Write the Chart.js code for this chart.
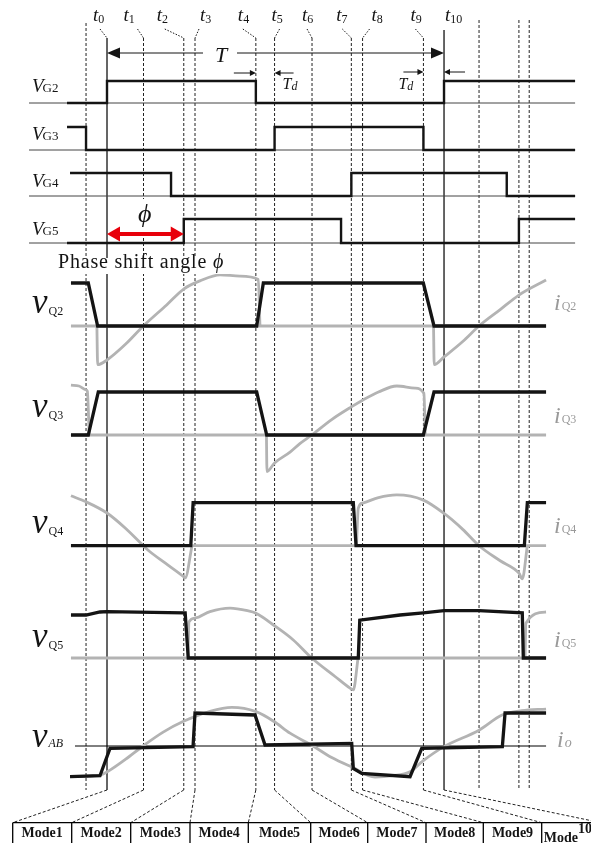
<!DOCTYPE html>
<html>
<head>
<meta charset="utf-8">
<title>Phase-shift full bridge waveforms</title>
<script src="https://cdn.jsdelivr.net/npm/chart.js@4.4.1/dist/chart.umd.min.js"></script>
<style>
  html, body { margin: 0; padding: 0; background: #fff; }
  canvas { display: block; }
</style>
</head>
<body>
<canvas id="waves" width="591" height="843"></canvas>
<script>
// time is in degrees of one switching period T (t0 = 0, t10 = 360)
const tNames = ['0', '1', '2', '3', '4', '5', '6', '7', '8', '9', '10'];
const tMarks = [0, 39, 82, 94, 159, 179, 219, 261, 273, 338, 360];
// unlabeled instants belonging to the neighbouring periods
const extraMarks = [-22.4, 397.4, 440, 451];

// gate drive signals, [t, level]
const vG2 = [[-42.7, 0], [0, 0], [0, 1], [159, 1], [159, 0], [360, 0], [360, 1], [500, 1]];
const vG3 = [[-42.7, 1], [-22.4, 1], [-22.4, 0], [179, 0], [179, 1], [338, 1], [338, 0], [500, 0]];
const vG4 = [[-39.5, 1], [68.4, 1], [68.4, 0], [261, 0], [261, 1], [427, 1], [427, 0], [500, 0]];
const vG5 = [[-42.7, 0], [82, 0], [82, 1], [250, 1], [250, 0], [440, 0], [440, 1], [500, 1]];

// switch voltages (black), per unit
const vQ2 = [[-38.5, 1], [-20, 1], [-10, 0], [159.9, 0], [167, 1], [337.9, 1], [349.3, 0], [469, 0]];
const vQ3 = [[-38.5, 0], [-20, 0], [-9.3, 1], [159.9, 1], [170.6, 0], [337.9, 0], [349.3, 1], [469, 1]];
const vQ4 = [[-38.5, 0], [89.5, 0], [92, 1], [263.1, 1], [266, 0], [445.8, 0], [449, 1], [469, 1]];
const vQ5 = [[-38.5, 1], [-22.4, 1], [-7.5, 1.07], [0, 1.08], [81.9, 1.05], [83.5, 1.05], [86.8, 0],
             [268.4, 0], [270, 0.88], [313, 1], [337.9, 1.05], [360, 1.1], [397.4, 1.1], [443.6, 1.05],
             [444.7, 0], [469, 0]];

// switch currents (grey), per unit, one array per conduction pulse
const iQ2a = [[-10.8, 0], [-10, -0.9], [0, -0.79], [20, -0.42], [38.8, 0], [63.7, 0.49], [81.9, 0.86],
              [99.3, 1.05], [120.7, 1.19], [142, 1.16], [161.6, 1.08], [163.4, 0]];
const iQ2b = [[348.8, 0], [349.5, -0.9], [360, -0.72], [380, -0.36], [397.4, 0], [420, 0.38],
              [440, 0.72], [469, 1.07]];
const iQ3a = [[-38.5, 1.16], [-30, 1.14], [-22.4, 1.05], [-21, 1.02], [-19, 0]];
const iQ3b = [[170.3, 0], [170.9, -0.85], [179, -0.65], [195.5, -0.4], [206, -0.2], [218.7, 0],
              [240, 0.36], [261.4, 0.66], [273, 0.81], [290, 1], [309.5, 1.14], [329, 1.09],
              [338.5, 0.97], [340, 0]];
const iQ4a = [[-38.5, 1.16], [-22.4, 1.02], [0, 0.76], [20, 0.4], [38.8, 0], [45.9, -0.14], [62, -0.4],
              [81.9, -0.72], [83.5, -0.75], [90.8, 0]];
const iQ4b = [[266.5, 0], [268.4, 0.87], [273, 0.99], [290, 1.12], [309.5, 1.18], [337.9, 1.06],
              [360, 0.75], [380, 0.38], [397.4, 0], [420, -0.35], [440.1, -0.64], [443.6, -0.77], [449, 0]];
const iQ5a = [[86.5, 0], [87.6, 0.84], [94, 0.93], [110, 1.08], [131.4, 1.16], [150, 1.1], [159.2, 1.04],
              [179, 0.75], [199, 0.42], [218.7, 0], [243.6, -0.43], [259.6, -0.7], [263.1, -0.74], [268.2, 0]];
const iQ5b = [[446.5, 0], [447.5, 0.81], [469, 1.07]];

// bridge output voltage and load current
const vAB = [[-39.5, -0.93], [-7.5, -0.9], [3.2, -0.07], [91.9, -0.02], [94, 1], [158.1, 0.94],
             [168.8, 0.03], [261.4, 0.08], [263.1, -0.68], [272.1, -0.83], [323.7, -0.93], [336.2, -0.07],
             [422.3, -0.02], [425.2, 1], [469, 1]];
const iO = [[-39.5, -0.93], [-7.5, -0.88], [3.2, -0.73], [20, -0.4], [38.5, 0], [60, 0.42], [81.2, 0.74],
            [110, 1.05], [133.5, 1.17], [159.2, 1.04], [178, 0.75], [195.5, 0.39], [220, 0], [240, -0.35],
            [261.7, -0.64], [286.3, -0.94], [305, -0.9], [323.7, -0.78], [337.6, -0.45], [360, -0.02],
            [397.4, 0.48], [422, 0.94], [443, 1.07], [469, 1.12]];

const modeNames = ['Mode1', 'Mode2', 'Mode3', 'Mode4', 'Mode5', 'Mode6', 'Mode7', 'Mode8', 'Mode9', 'Mode'];

// ---- layout ----
const X_MIN = -114.3, X_MAX = 517;
const BLACK = '#141414', GREY = '#b3b3b3', SERIF = '"Liberation Serif", "Times New Roman", serif';
const gateLanes = [
  { base: 103, amp: 22, ly: -11, sub: 'G2' },
  { base: 150, amp: 23, ly: -10, sub: 'G3' },
  { base: 196, amp: 23, ly: -9, sub: 'G4' },
  { base: 243, amp: 24, ly: -8, sub: 'G5' }
];
const waveLanes = [
  { base: 326, amp: 43, ly: -13, ry: -16, sub: 'Q2' },
  { base: 435, amp: 43, ly: -18, ry: -12, sub: 'Q3' },
  { base: 545.7, amp: 43, ly: -13, ry: -13, sub: 'Q4' },
  { base: 658, amp: 43, ly: -11, ry: -11, sub: 'Q5' }
];
const abLane = { base: 746, amp: 33 };
const LINE_TOP = 38, LINE_BOTTOM = 790, MODE_TOP = 822.7;
const modeEdges = [12.7, 71.7, 130.7, 190, 248.3, 310.7, 367.7, 426, 483.3, 541.7, 601];
const tLabelDx = [-14, -20, -27, 5, -18, -3, -10, -15, 9, -13, 1];
const tLeadDx = [-7, -6, -19, 4, -13, 5, -5, -9, 7, -8, 0];

const datasets = [];
function addTrace(points, lane, style) {
  datasets.push(Object.assign({
    data: points.map(([t, v]) => ({ x: t, y: lane.base - v * lane.amp })),
    showLine: true, pointRadius: 0, pointHoverRadius: 0, fill: false,
    borderColor: BLACK, borderWidth: 3.3, tension: 0, order: 2
  }, style));
}
function addVertical(t, top, bottom, solid) {
  datasets.push({
    data: [{ x: t, y: top }, { x: t, y: bottom }],
    showLine: true, pointRadius: 0, pointHoverRadius: 0,
    borderColor: solid ? '#000' : '#222', borderWidth: solid ? 1.2 : 1,
    borderDash: solid ? [] : [3, 2], order: 10
  });
}

// time instants
tMarks.forEach((t, i) => addVertical(t, i === 10 ? 30 : LINE_TOP, LINE_BOTTOM, i === 0 || i === 10));
addVertical(extraMarks[0], 23, LINE_BOTTOM, false);
extraMarks.slice(1).forEach(t => addVertical(t, 20, LINE_BOTTOM, false));

// gate rows
[vG2, vG3, vG4, vG5].forEach((g, i) => {
  const lane = gateLanes[i];
  addTrace([[-83.3, 0], [500, 0]], lane, { borderColor: '#444', borderWidth: 1, order: 9 });
  addTrace(g, lane, { borderWidth: 2.4 });
});

// switch rows
const pulses = [[iQ2a, iQ2b], [iQ3a, iQ3b], [iQ4a, iQ4b], [iQ5a, iQ5b]];
[vQ2, vQ3, vQ4, vQ5].forEach((v, i) => {
  const lane = waveLanes[i];
  addTrace([[-38.5, 0], [469, 0]], lane, { borderColor: GREY, borderWidth: 2.8, order: 9 });
  pulses[i].forEach(p => addTrace(p, lane, {
    borderColor: GREY, borderWidth: 2.8, cubicInterpolationMode: 'monotone', order: 8
  }));
  addTrace(v, lane, { order: 2 });
});

// output row
addTrace([[-34.2, 0], [469, 0]], abLane, { borderColor: '#000', borderWidth: 1, order: 9 });
addTrace(iO, abLane, { borderColor: GREY, borderWidth: 2.8, cubicInterpolationMode: 'monotone', order: 8 });
addTrace(vAB, abLane, { order: 2 });

function runs(ctx, x, y, parts) {
  parts.forEach(p => {
    ctx.font = p.font;
    ctx.fillStyle = p.color || BLACK;
    ctx.fillText(p.text, x + (p.dx || 0), y + (p.dy || 0));
    x += ctx.measureText(p.text).width + (p.dx || 0);
  });
}
function head(ctx, x, y, dir, len, half) {
  ctx.beginPath();
  ctx.moveTo(x, y);
  ctx.lineTo(x - dir * len, y - half);
  ctx.lineTo(x - dir * len, y + half);
  ctx.closePath();
  ctx.fill();
}
function arrow(ctx, x0, x1, y, len, half, width) {
  ctx.lineWidth = width;
  ctx.beginPath();
  ctx.moveTo(x0, y);
  ctx.lineTo(x1 - Math.sign(x1 - x0) * len * 0.8, y);
  ctx.stroke();
  head(ctx, x1, y, Math.sign(x1 - x0), len, half);
}
function dashed(ctx, x0, y0, x1, y1, dash) {
  ctx.setLineDash(dash);
  ctx.beginPath();
  ctx.moveTo(x0, y0);
  ctx.lineTo(x1, y1);
  ctx.stroke();
  ctx.setLineDash([]);
}

const overlay = {
  id: 'overlay',
  afterDatasetsDraw(chart) {
    const ctx = chart.ctx;
    const X = v => chart.scales.x.getPixelForValue(v);
    const Y = v => chart.scales.y.getPixelForValue(v);
    ctx.save();
    ctx.strokeStyle = BLACK;
    ctx.fillStyle = BLACK;

    // instant labels with dotted leaders
    tNames.forEach((n, i) => {
      const x = X(tMarks[i]);
      runs(ctx, x + tLabelDx[i], Y(21), [
        { text: 't', font: 'italic 19px ' + SERIF },
        { text: n, font: '12px ' + SERIF, dy: 2 }
      ]);
      if (i < 10) {
        ctx.lineWidth = 1;
        dashed(ctx, x + tLeadDx[i], Y(29), x, Y(LINE_TOP), [1.5, 1.5]);
      }
    });

    // period arrow
    const x0 = X(tMarks[0]), x10 = X(tMarks[10]);
    ctx.lineWidth = 1;
    ctx.beginPath();
    ctx.moveTo(x0 + 8, Y(53));
    ctx.lineTo(x10 - 8, Y(53));
    ctx.stroke();
    head(ctx, x0, Y(53), -1, 13, 5.5);
    head(ctx, x10, Y(53), 1, 13, 5.5);
    ctx.fillStyle = '#fff';
    ctx.fillRect(x0 + 96, Y(42), 34, 22);
    ctx.fillStyle = BLACK;
    runs(ctx, x0 + 108, Y(62), [{ text: 'T', font: 'italic 22px ' + SERIF }]);

    // dead-time arrows
    const t4 = X(tMarks[4]), t5 = X(tMarks[5]), t9 = X(tMarks[9]);
    arrow(ctx, t4 - 22, t4, Y(73), 6, 3, 1);
    arrow(ctx, t5 + 19, t5, Y(73), 6, 3, 1);
    arrow(ctx, t9 - 20, t9, Y(72), 6, 3, 1);
    arrow(ctx, x10 + 21, x10, Y(72), 6, 3, 1);
    const td = [{ text: 'T', font: 'italic 16px ' + SERIF }, { text: 'd', font: 'italic 12px ' + SERIF, dy: 1 }];
    runs(ctx, t5 + 8, Y(89), td);
    runs(ctx, t9 - 25, Y(89), td);

    // gate labels
    gateLanes.forEach(l => runs(ctx, 32, Y(l.base + l.ly), [
      { text: 'V', font: 'italic 19px ' + SERIF },
      { text: l.sub, font: '13px ' + SERIF, dx: -1 }
    ]));

    // phase shift arrow
    const t2 = X(tMarks[2]);
    ctx.fillStyle = '#fff';
    ctx.fillRect(x0 + 27, Y(199), 27, 33);
    ctx.fillStyle = '#e8000b';
    ctx.strokeStyle = '#e8000b';
    ctx.lineWidth = 4;
    ctx.beginPath();
    ctx.moveTo(x0 + 9, Y(234));
    ctx.lineTo(t2 - 9, Y(234));
    ctx.stroke();
    head(ctx, x0, Y(234), -1, 13, 7.5);
    head(ctx, t2, Y(234), 1, 13, 7.5);
    ctx.strokeStyle = BLACK;
    runs(ctx, x0 + 31, Y(222), [{ text: '\u03D5', font: 'italic 26px ' + SERIF }]);

    ctx.fillStyle = '#fff';
    ctx.fillRect(55, Y(258), 174, 16);
    ctx.letterSpacing = '0.8px';
    runs(ctx, 58, Y(268), [
      { text: 'Phase shift angle ', font: '20px ' + SERIF },
      { text: '\u03D5', font: 'italic 20px ' + SERIF }
    ]);
    ctx.letterSpacing = '0px';

    // waveform labels
    waveLanes.forEach(l => {
      runs(ctx, 32, Y(l.base + l.ly), [
        { text: 'v', font: 'italic 35px ' + SERIF },
        { text: l.sub, font: '12px ' + SERIF, dx: 1, dy: 2 }
      ]);
      runs(ctx, 554, Y(l.base + l.ry), [
        { text: 'i', font: 'italic 24px ' + SERIF, color: '#9a9a9a' },
        { text: l.sub, font: '12px ' + SERIF, color: '#9a9a9a', dx: 1 }
      ]);
    });
    runs(ctx, 32, Y(abLane.base + 1), [
      { text: 'v', font: 'italic 35px ' + SERIF },
      { text: 'AB', font: 'italic 12px ' + SERIF, dx: 1 }
    ]);
    runs(ctx, 557, Y(abLane.base + 1), [
      { text: 'i', font: 'italic 24px ' + SERIF, color: '#9a9a9a' },
      { text: 'o', font: 'italic 14px ' + SERIF, color: '#9a9a9a', dx: 1 }
    ]);

    // mode table and its leaders
    ctx.strokeStyle = '#222';
    ctx.lineWidth = 1;
    tMarks.forEach((t, i) => dashed(ctx, X(t), Y(LINE_BOTTOM), modeEdges[i], Y(MODE_TOP), [3, 2]));
    ctx.strokeStyle = '#000';
    ctx.lineWidth = 1.3;
    ctx.beginPath();
    ctx.moveTo(modeEdges[0], Y(MODE_TOP));
    ctx.lineTo(591, Y(MODE_TOP));
    modeEdges.forEach(e => { ctx.moveTo(e, Y(MODE_TOP)); ctx.lineTo(e, 843); });
    ctx.stroke();
    ctx.textAlign = 'center';
    modeNames.slice(0, 9).forEach((m, i) => runs(ctx, (modeEdges[i] + modeEdges[i + 1]) / 2, Y(837), [
      { text: m, font: 'bold 14px ' + SERIF }
    ]));
    ctx.textAlign = 'left';
    runs(ctx, modeEdges[9] + 2, Y(842), [
      { text: modeNames[9], font: 'bold 14px ' + SERIF },
      { text: '10', font: 'bold 14px ' + SERIF, dy: -9 }
    ]);
    ctx.restore();
  }
};

new Chart(document.getElementById('waves'), {
  type: 'scatter',
  data: { datasets: datasets },
  options: {
    responsive: false,
    animation: false,
    events: [],
    layout: { padding: 0 },
    plugins: { legend: { display: false }, tooltip: { enabled: false } },
    scales: {
      x: { type: 'linear', min: X_MIN, max: X_MAX, display: false },
      y: { type: 'linear', min: 0, max: 843, reverse: true, display: false }
    }
  },
  plugins: [overlay]
});
</script>
</body>
</html>
